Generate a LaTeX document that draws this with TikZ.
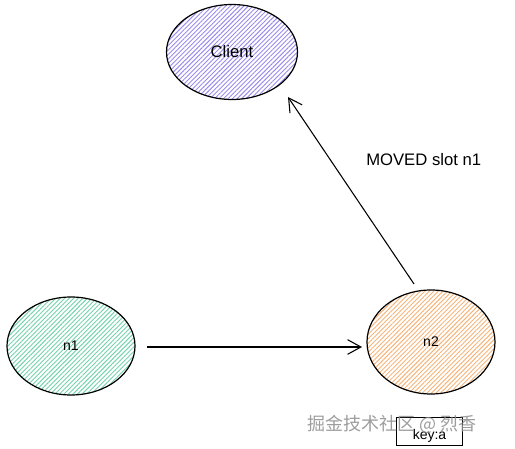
\documentclass[tikz,border=0pt]{standalone}
\usepackage{fontspec}
\setmainfont{Liberation Sans}
\newfontfamily\cjk{Noto Sans CJK SC}
\usetikzlibrary{patterns.meta,arrows.meta,shapes.geometric}
\definecolor{violetH}{HTML}{9A8BEB}
\definecolor{greenH}{HTML}{74D2AE}
\definecolor{orangeH}{HTML}{F6B47A}
\tikzset{
  blob/.style={ellipse, draw=black, line width=0.9pt, inner sep=0pt},
  hatch/.style={pattern={Lines[angle=45,distance=2.4pt,line width=0.7pt]}, pattern color=#1},
  conn/.style={draw=black, line width=0.8pt, -{Straight Barb[length=10pt,width=11pt]}},
  lbl/.style={font=\fontsize{12.5}{14}\selectfont},
  small/.style={font=\fontsize{10.5}{12}\selectfont},
  wm/.style={font=\cjk\fontsize{13.5}{15}\selectfont, text=black!45, opacity=0.85}
}
\begin{document}
\begin{tikzpicture}[x=0.75pt,y=-0.75pt]
\useasboundingbox (0,0) rectangle (515,449);
\node[blob, hatch=violetH, minimum width=131*0.75pt, minimum height=95*0.75pt] (client) at (232,52) {};
\node[lbl] at (client) {Client};
\node[blob, hatch=greenH, minimum width=128*0.75pt, minimum height=98*0.75pt] (n1) at (71,346) {};
\node[small] at (n1) {n1};
\node[blob, hatch=orangeH, minimum width=128*0.75pt, minimum height=104*0.75pt] (n2) at (431,342) {};
\node[small] at (n2) {n2};
\coordinate (a1) at (147,347);
\coordinate (a2) at (362,347);
\draw[conn] (a1) -- (a2);
\coordinate (b1) at (414,284);
\coordinate (b2) at (288,97);
\draw[conn] (b1) -- (b2);
\node[lbl, anchor=west, inner sep=0pt] (mv) at (366,160) {MOVED slot n1};
\node[draw=black, line width=0.8pt, minimum width=66*0.75pt, minimum height=28*0.75pt, anchor=north west, inner sep=0pt] (key) at (396,417) {};
\node[small, anchor=south] at ([yshift=-1pt]key.south) {key:a};
\node[wm, anchor=west] (w) at (303,424) {掘金技术社区 @ 烈香};
\end{tikzpicture}
\end{document}
